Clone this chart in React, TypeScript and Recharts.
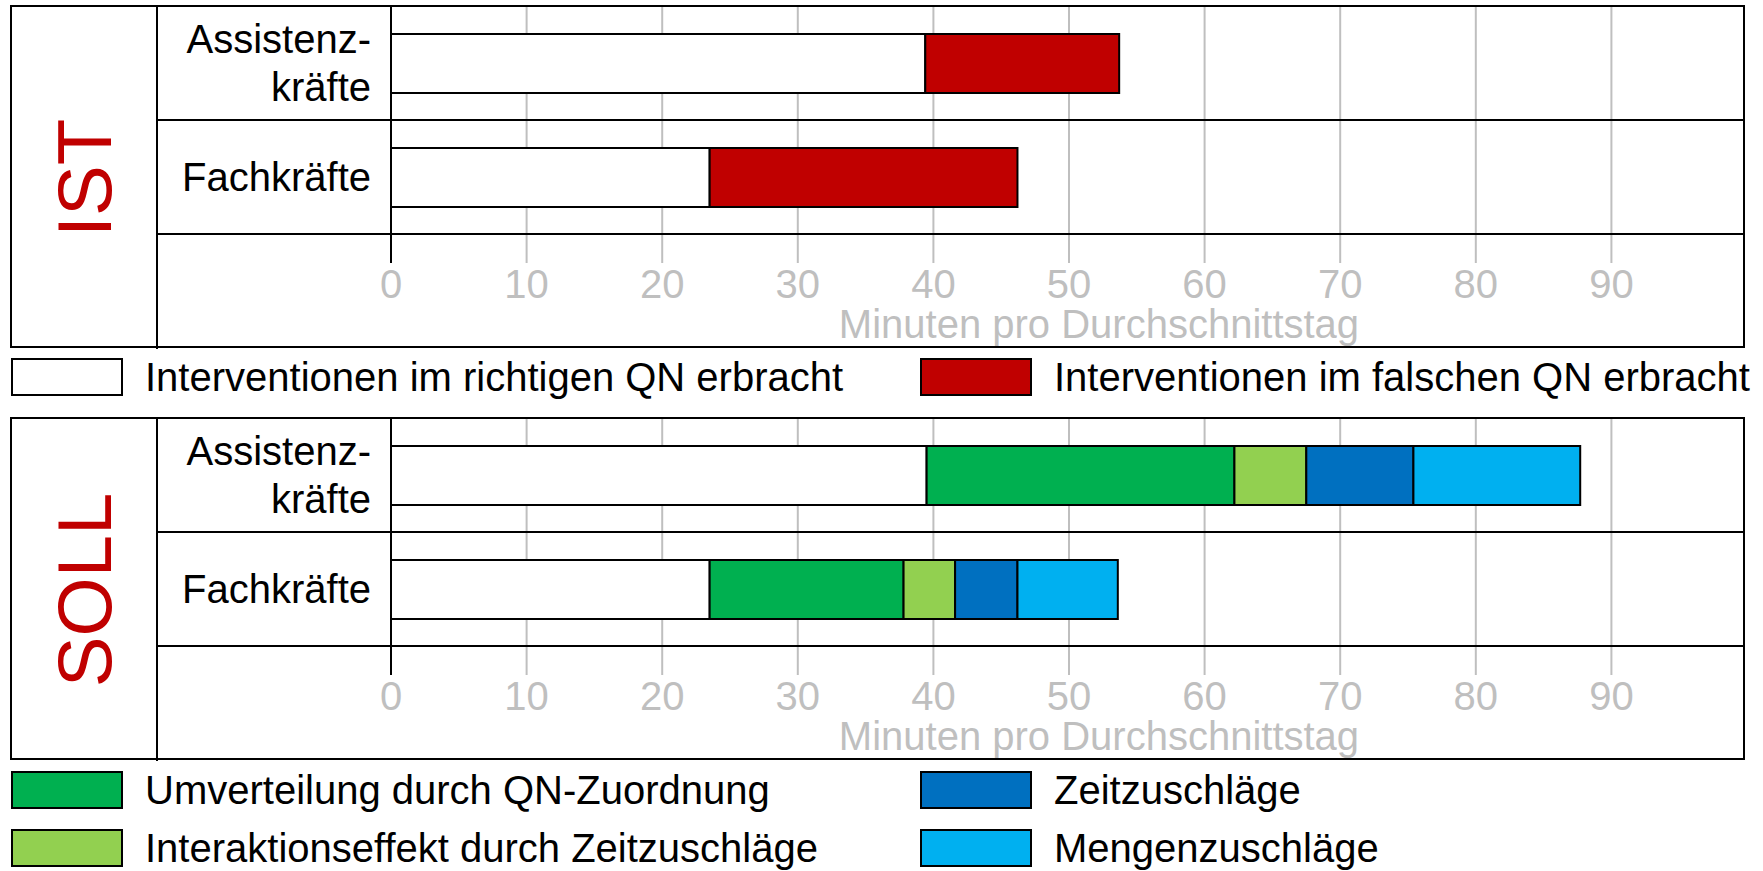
import { BarChart, Bar, XAxis, YAxis, CartesianGrid, Label } from 'recharts'

// categories (rows) and their two-line labels
const categories = ['Assistenzkräfte', 'Fachkräfte']
const categoryLines: Record<string, string[]> = {
  Assistenzkräfte: ['Assistenz-', 'kräfte'],
  Fachkräfte: ['Fachkräfte'],
}
const xTicks = [0, 10, 20, 30, 40, 50, 60, 70, 80, 90]

// IST panel, minutes per average day (stacked segments)
const istRichtig = [39.4, 23.5]
const istFalsch = [14.3, 22.7]

// SOLL panel
const sollRichtig = [39.5, 23.5]
const sollUmverteilung = [22.7, 14.3]
const sollInteraktion = [5.3, 3.8]
const sollZeit = [7.9, 4.6]
const sollMenge = [12.3, 7.4]

const FONT = '"Liberation Sans", Arial, sans-serif'
const GRID = '#BFBFBF'
const CHART_W = 1590
const CHART_H = 342
const AXIS_H = 114
const YAXIS_W = 234
const BAND = (CHART_H - AXIS_H) / categories.length

const istData = categories.map((name, i) => ({
  name,
  richtig: istRichtig[i],
  falsch: istFalsch[i],
}))

const sollData = categories.map((name, i) => ({
  name,
  richtig: sollRichtig[i],
  umverteilung: sollUmverteilung[i],
  interaktion: sollInteraktion[i],
  zeit: sollZeit[i],
  menge: sollMenge[i],
}))

interface SeriesDef {
  key: string
  color: string
}

const istSeries: SeriesDef[] = [
  { key: 'richtig', color: '#FFFFFF' },
  { key: 'falsch', color: '#C00000' },
]

const sollSeries: SeriesDef[] = [
  { key: 'richtig', color: '#FFFFFF' },
  { key: 'umverteilung', color: '#00B050' },
  { key: 'interaktion', color: '#92D050' },
  { key: 'zeit', color: '#0070C0' },
  { key: 'menge', color: '#00B0F0' },
]

function CategoryTick({ x, y, payload }: any) {
  const lines = categoryLines[payload.value] ?? [payload.value]
  const lh = 48
  const y0 = y - ((lines.length - 1) * lh) / 2
  return (
    <g>
      <line x1={0} x2={CHART_W - 4} y1={y + BAND / 2} y2={y + BAND / 2} stroke="#000" strokeWidth={2} />
      <text x={x} y={y0} textAnchor="end" fontSize={40} fontFamily={FONT} fill="#000">
        {lines.map((l, i) => (
          <tspan key={i} x={x} y={y0 + i * lh} dy="0.36em">
            {l}
          </tspan>
        ))}
      </text>
    </g>
  )
}

function MinuteTick({ x, y, payload }: any) {
  return (
    <g>
      <line
        x1={x}
        x2={x}
        y1={y}
        y2={y + 29}
        stroke={payload.value === 0 ? '#000' : GRID}
        strokeWidth={2}
      />
      <text x={x} y={y + 50} textAnchor="middle" dy="0.36em" fontSize={40} fontFamily={FONT} fill={GRID}>
        {payload.value}
      </text>
    </g>
  )
}

function Panel({
  top,
  title,
  data,
  series,
}: {
  top: number
  title: string
  data: any[]
  series: SeriesDef[]
}) {
  return (
    <>
      <div style={{ position: 'absolute', left: 157, top: top + 1 }}>
        <BarChart
          width={CHART_W}
          height={CHART_H}
          data={data}
          layout="vertical"
          margin={{ top: 0, right: 0, bottom: 0, left: 0 }}
          barSize={59}
        >
          <CartesianGrid horizontal={false} stroke={GRID} strokeWidth={2} />
          <XAxis
            type="number"
            domain={[0, 100]}
            ticks={xTicks}
            height={AXIS_H}
            axisLine={false}
            tickLine={false}
            tickSize={0}
            tickMargin={0}
            tick={<MinuteTick />}
            interval={0}
          >
            <Label
              content={({ viewBox }: any) => (
                <text
                  x={viewBox.x + viewBox.width / 2 + 30}
                  y={viewBox.y + 90}
                  textAnchor="middle"
                  dy="0.36em"
                  fontSize={40}
                  fontFamily={FONT}
                  fill={GRID}
                >
                  Minuten pro Durchschnittstag
                </text>
              )}
            />
          </XAxis>
          <YAxis
            type="category"
            dataKey="name"
            width={YAXIS_W}
            axisLine={{ stroke: '#000', strokeWidth: 2 }}
            tickLine={false}
            tickSize={0}
            tickMargin={20}
            tick={<CategoryTick />}
            interval={0}
          />
          {series.map((s) => (
            <Bar
              key={s.key}
              dataKey={s.key}
              stackId="a"
              fill={s.color}
              stroke="#000"
              strokeWidth={2}
              isAnimationActive={false}
            />
          ))}
        </BarChart>
      </div>
      <div
        style={{
          position: 'absolute',
          left: 10,
          top,
          width: 1735,
          height: 343,
          border: '2px solid #000',
          boxSizing: 'border-box',
          pointerEvents: 'none',
        }}
      />
      <div style={{ position: 'absolute', left: 1745, top, width: 20, height: 344, background: '#fff' }} />
      <div style={{ position: 'absolute', left: 156, top, width: 2, height: 344, background: '#000' }} />
      <div
        style={{
          position: 'absolute',
          left: 85,
          top: top + 173,
          transform: 'translate(-50%, -50%) rotate(-90deg)',
          fontSize: 76,
          lineHeight: 1,
          color: '#C00000',
          whiteSpace: 'nowrap',
        }}
      >
        {title}
      </div>
    </>
  )
}

function Swatch({ left, top, color, text }: { left: number; top: number; color: string; text: string }) {
  return (
    <>
      <div
        style={{
          position: 'absolute',
          left,
          top,
          width: 112,
          height: 38,
          background: color,
          border: '2px solid #000',
          boxSizing: 'border-box',
        }}
      />
      <div
        style={{
          position: 'absolute',
          left: left + 134,
          top: top + 19,
          transform: 'translateY(-50%)',
          fontSize: 40,
          lineHeight: 1.1,
          whiteSpace: 'nowrap',
          color: '#000',
        }}
      >
        {text}
      </div>
    </>
  )
}

export default function App() {
  return (
    <div
      style={{
        position: 'absolute',
        left: 0,
        top: 0,
        width: 1763,
        height: 871,
        background: '#fff',
        fontFamily: FONT,
        overflow: 'hidden',
      }}
    >
      <Panel top={5} title="IST" data={istData} series={istSeries} />
      <Swatch left={11} top={358} color="#FFFFFF" text="Interventionen im richtigen QN erbracht" />
      <Swatch left={920} top={358} color="#C00000" text="Interventionen im falschen QN erbracht" />

      <Panel top={417} title="SOLL" data={sollData} series={sollSeries} />
      <Swatch left={11} top={771} color="#00B050" text="Umverteilung durch QN-Zuordnung" />
      <Swatch left={920} top={771} color="#0070C0" text="Zeitzuschläge" />
      <Swatch left={11} top={829} color="#92D050" text="Interaktionseffekt durch Zeitzuschläge" />
      <Swatch left={920} top={829} color="#00B0F0" text="Mengenzuschläge" />
    </div>
  )
}
